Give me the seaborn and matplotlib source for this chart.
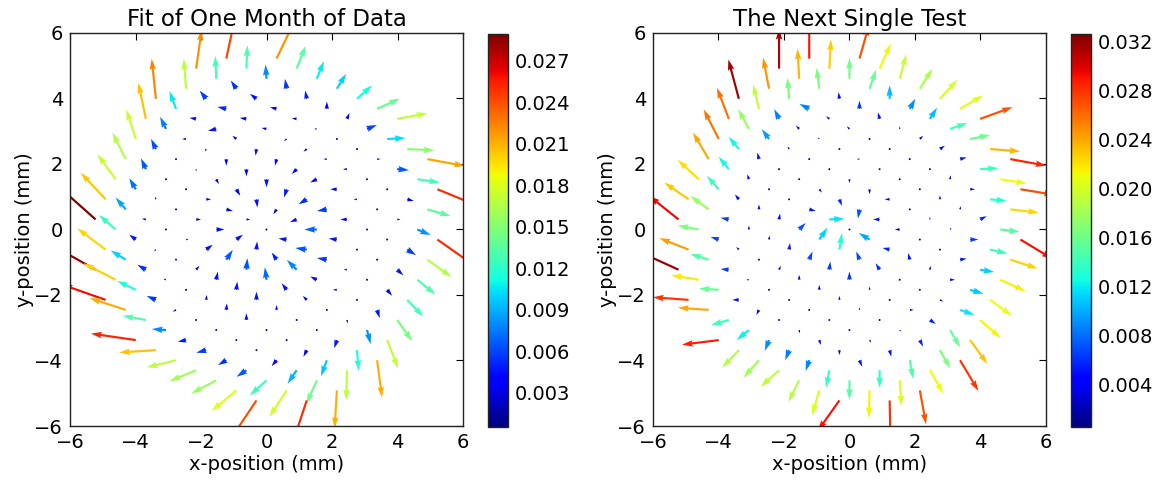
"""Two quiver panels of a focal-plane distortion field, drawn on a rotated square lattice."""

import matplotlib

matplotlib.use("Agg")
import matplotlib.pyplot as plt
import numpy as np
import seaborn as sns

# lattice geometry (mm): point = i * STEP_A + j * STEP_B
STEP_A = (0.307, 0.614)
STEP_B = (0.614, -0.307)

# first j index of every lattice row i (rows run from j_first to -j_first)
J_FIRST = {7: -3, 6: -5, 5: -6, 4: -6, 3: -7, 2: -7, 1: -7, 0: -7,
           -1: -7, -2: -7, -3: -7, -4: -6, -5: -6, -6: -5, -7: -3}

# ---- panel 1: fit of one month of data (arrow components as drawn, mm)
DX1 = {
    7: [0.52, 0.27, 0.22, 0.28, 0.46, 0.69, 0.92],
    6: [0.28, 0.03, -0.03, -0.05, -0.05, 0.00, 0.08, 0.30, 0.56, 0.83, 1.15],
    5: [0.17, -0.03, -0.17, -0.20, -0.20, -0.15, -0.08, 0.02, 0.03, 0.10, 0.36, 0.69, 1.27],
    4: [-0.07, -0.20, -0.27, -0.20, -0.15, -0.08, -0.10, -0.10, -0.12, -0.03, 0.03, 0.20, 0.71],
    3: [-0.13, -0.20, -0.20, -0.25, -0.12, -0.03, -0.05, -0.15, -0.20, -0.20, -0.10, 0.02, 0.10, 0.41, 1.12],
    2: [-0.23, -0.18, -0.12, -0.04, 0.00, 0.00, 0.00, -0.08, -0.25, -0.30, -0.20, -0.03, 0.03, 0.27, 0.74],
    1: [-0.29, -0.15, -0.03, 0.00, 0.08, 0.12, 0.03, -0.10, -0.20, -0.38, -0.25, -0.05, 0.02, 0.19, 0.56],
    0: [-0.41, -0.15, -0.03, 0.04, 0.15, 0.20, 0.12, 0.00, -0.25, -0.35, -0.30, -0.10, 0.02, 0.15, 0.49],
    -1: [-0.56, -0.20, -0.03, -0.03, 0.15, 0.25, 0.20, 0.02, -0.15, -0.30, -0.20, -0.12, 0.02, 0.08, 0.46],
    -2: [-0.76, -0.31, -0.12, -0.02, 0.08, 0.20, 0.20, 0.03, -0.05, -0.15, -0.12, 0.02, 0.03, 0.11, 0.34],
    -3: [-1.18, -0.51, -0.20, -0.06, 0.02, 0.10, 0.05, 0.03, 0.00, 0.00, 0.02, 0.02, -0.08, 0.05, 0.15],
    -4: [-0.87, -0.46, -0.26, -0.08, 0.00, 0.02, 0.02, 0.00, 0.00, 0.02, -0.10, -0.18, -0.02],
    -5: [-1.35, -0.98, -0.57, -0.28, -0.10, -0.05, -0.03, -0.03, -0.03, -0.15, -0.28, -0.31, -0.07],
    -6: [-1.34, -1.10, -0.71, -0.43, -0.25, -0.30, -0.25, -0.30, -0.51, -0.53, -0.43],
    -7: [-1.37, -1.12, -0.90, -0.81, -0.76, -0.76, -0.73],
}
DY1 = {
    7: [1.08, 0.69, 0.54, 0.46, 0.41, 0.31, 0.17],
    6: [1.30, 0.71, 0.43, 0.30, 0.25, 0.22, 0.18, 0.12, 0.03, -0.04, -0.21],
    5: [1.19, 0.69, 0.25, 0.15, 0.05, 0.02, 0.00, 0.02, 0.02, 0.00, -0.03, -0.10, -0.52],
    4: [0.92, 0.25, 0.06, 0.03, 0.03, -0.06, -0.08, 0.00, 0.00, 0.00, 0.00, -0.05, -0.20],
    3: [1.22, 0.54, 0.03, -0.06, 0.10, -0.20, -0.20, -0.15, -0.10, 0.00, 0.00, 0.00, 0.00, -0.17, -0.79],
    2: [1.10, 0.37, 0.00, -0.08, -0.20, -0.22, -0.25, -0.25, -0.15, -0.05, 0.00, 0.00, 0.00, -0.17, -0.53],
    1: [0.90, 0.31, 0.00, -0.07, -0.15, -0.20, -0.25, -0.15, -0.08, 0.00, 0.03, 0.00, 0.00, -0.17, -0.45],
    0: [0.81, 0.33, 0.03, -0.03, 0.00, -0.05, 0.00, 0.00, 0.03, 0.05, 0.05, 0.00, 0.00, -0.18, -0.51],
    -1: [0.76, 0.34, 0.08, 0.03, 0.00, 0.00, 0.15, 0.25, 0.22, 0.30, 0.10, 0.00, -0.02, -0.25, -0.65],
    -2: [0.81, 0.36, 0.02, 0.00, 0.00, 0.15, 0.30, 0.35, 0.38, 0.20, 0.12, 0.00, -0.10, -0.43, -0.87],
    -3: [1.05, 0.44, 0.15, -0.05, 0.02, 0.12, 0.25, 0.25, 0.25, 0.15, 0.02, -0.02, -0.25, -0.63, -1.14],
    -4: [0.65, 0.28, 0.15, 0.03, -0.05, 0.15, 0.20, 0.20, 0.05, -0.02, -0.20, -0.49, -0.92],
    -5: [0.76, 0.50, 0.27, 0.12, -0.05, 0.00, 0.03, -0.03, -0.05, -0.18, -0.41, -0.71, -1.15],
    -6: [0.47, 0.36, 0.13, 0.03, -0.05, -0.08, -0.15, -0.20, -0.46, -0.81, -1.30],
    -7: [0.20, -0.07, -0.22, -0.33, -0.40, -0.63, -1.09],
}

# ---- panel 2: the next single test (arrow components as drawn, mm)
DX2 = {
    7: [0.29, 0.34, 0.20, 0.38, 0.53, 0.70, 0.99],
    6: [0.00, 0.05, 0.00, 0.20, 0.00, 0.17, 0.22, 0.53, 0.61, 0.92, 1.10],
    5: [0.00, -0.05, -0.08, -0.03, 0.00, -0.05, 0.00, 0.10, 0.15, 0.20, 0.56, 0.81, 1.05],
    4: [-0.18, -0.05, -0.30, -0.10, -0.08, 0.02, 0.02, 0.02, 0.03, 0.02, 0.15, 0.51, 0.87],
    3: [-0.32, -0.18, -0.15, -0.10, -0.05, 0.02, -0.08, 0.00, -0.03, 0.02, 0.00, 0.02, 0.20, 0.59, 0.98],
    2: [-0.36, -0.33, -0.22, -0.05, 0.00, 0.02, 0.00, 0.00, -0.15, 0.02, 0.00, 0.05, 0.25, 0.53, 0.84],
    1: [-0.46, -0.31, -0.05, 0.02, 0.02, 0.08, 0.08, -0.05, -0.20, -0.15, 0.02, 0.03, 0.20, 0.43, 0.77],
    0: [-0.48, -0.31, -0.05, 0.02, 0.05, 0.20, 0.46, 0.00, -0.33, -0.22, -0.05, 0.02, 0.15, 0.41, 0.66],
    -1: [-0.64, -0.36, -0.12, 0.00, 0.03, 0.20, 0.25, 0.08, -0.10, -0.12, 0.00, 0.02, 0.10, 0.44, 0.63],
    -2: [-0.74, -0.56, -0.25, 0.00, 0.02, 0.03, 0.10, 0.03, 0.00, 0.00, 0.02, 0.12, 0.18, 0.31, 0.53],
    -3: [-0.90, -0.64, -0.25, -0.08, 0.02, 0.05, 0.00, 0.00, 0.00, 0.00, 0.03, 0.05, 0.10, 0.32, 0.56],
    -4: [-0.89, -0.56, -0.25, -0.08, -0.03, 0.02, 0.03, 0.03, 0.03, 0.05, 0.05, 0.10, 0.41],
    -5: [-1.14, -0.84, -0.61, -0.20, -0.08, 0.02, 0.02, 0.05, 0.00, 0.08, 0.00, 0.05, 0.19],
    -6: [-1.09, -0.94, -0.54, -0.37, -0.13, -0.12, -0.11, -0.10, 0.00, -0.02, 0.02],
    -7: [-1.12, -0.51, -0.47, -0.56, -0.33, -0.22, -0.66],
}
DY2 = {
    7: [1.02, 0.76, 0.74, 0.61, 0.58, 0.41, 0.36],
    6: [1.14, 0.89, 0.63, 0.58, 0.41, 0.31, 0.34, 0.18, 0.12, -0.07, -0.20],
    5: [1.22, 0.92, 0.64, 0.20, 0.25, 0.20, 0.08, 0.10, 0.10, 0.05, 0.03, -0.13, -0.17],
    4: [0.95, 0.64, 0.15, 0.08, 0.08, 0.02, 0.00, 0.02, 0.03, 0.12, 0.00, -0.05, -0.10],
    3: [1.20, 0.74, 0.30, 0.10, 0.05, 0.02, 0.00, -0.03, 0.00, 0.00, 0.12, 0.10, 0.10, -0.07, -0.59],
    2: [0.95, 0.61, 0.30, 0.08, 0.00, -0.02, -0.12, -0.15, 0.00, 0.00, 0.08, 0.05, 0.00, -0.12, -0.27],
    1: [0.90, 0.37, 0.20, 0.02, 0.00, -0.10, -0.20, -0.28, 0.00, 0.00, 0.02, 0.02, 0.03, -0.07, -0.35],
    0: [0.81, 0.38, 0.15, 0.00, 0.00, -0.05, 0.02, 0.00, 0.20, 0.05, 0.20, 0.12, 0.00, -0.12, -0.48],
    -1: [0.59, 0.41, 0.15, 0.15, 0.18, 0.20, 0.36, 0.51, 0.25, 0.20, 0.05, 0.00, -0.05, -0.15, -0.55],
    -2: [0.51, 0.41, 0.05, 0.12, 0.12, 0.20, 0.25, 0.25, 0.25, 0.10, 0.00, 0.00, -0.12, -0.53, -0.73],
    -3: [0.72, 0.12, 0.08, 0.08, 0.02, 0.12, 0.15, 0.15, 0.12, 0.08, -0.03, -0.05, -0.20, -0.56, -0.94],
    -4: [0.35, 0.17, 0.02, 0.00, 0.03, 0.02, 0.00, -0.03, -0.05, -0.08, -0.20, -0.57, -0.71],
    -5: [0.52, 0.14, 0.04, 0.00, -0.15, -0.02, -0.10, -0.15, -0.15, -0.20, -0.54, -0.79, -1.04],
    -6: [0.08, 0.07, -0.15, -0.30, -0.33, -0.31, -0.33, -0.53, -0.59, -0.84, -1.10],
    -7: [-0.14, -0.53, -0.53, -0.50, -0.66, -0.76, -0.93],
}

# colour value per mm of drawn arrow, and colour limits
VALUE_PER_MM = [0.0183, 0.0255]
CLIMS = [(0.00055, 0.0289), (0.00053, 0.0326)]
CBAR_TICKS = [np.arange(0.003, 0.0271, 0.003), np.arange(0.004, 0.0321, 0.004)]
TITLES = ["Fit of One Month of Data", "The Next Single Test"]


def lattice_field(dx_rows, dy_rows):
    xs, ys, us, vs = [], [], [], []
    for i, j0 in J_FIRST.items():
        assert len(dx_rows[i]) == len(dy_rows[i]) == 1 - 2 * j0
        for k, (u, v) in enumerate(zip(dx_rows[i], dy_rows[i])):
            j = j0 + k
            xs.append(i * STEP_A[0] + j * STEP_B[0])
            ys.append(i * STEP_A[1] + j * STEP_B[1])
            us.append(u)
            vs.append(v)
    return np.array(xs), np.array(ys), np.array(us), np.array(vs)


sns.set_style("white")
plt.rcParams.update({
    "font.family": ["DejaVu Sans"],
    "text.color": "black",
    "axes.labelcolor": "black",
    "axes.edgecolor": "#222222",
    "axes.linewidth": 1.0,
    "xtick.direction": "in",
    "ytick.direction": "in",
    "xtick.top": True,
    "ytick.right": True,
    "xtick.major.size": 5,
    "ytick.major.size": 5,
    "xtick.color": "black",
    "ytick.color": "black",
})

fig = plt.figure(figsize=(11.61, 4.8), dpi=100)
axes_rects = [(0.0603, 0.1125, 0.3385, 0.8188), (0.5624, 0.1125, 0.3385, 0.8188)]
cbar_rects = [(0.4205, 0.1110, 0.0167, 0.8175), (0.9225, 0.1110, 0.0172, 0.8175)]
fields = [(DX1, DY1), (DX2, DY2)]

for p in range(2):
    ax = fig.add_axes(axes_rects[p])
    x, y, u, v = lattice_field(*fields[p])
    c = np.hypot(u, v) * VALUE_PER_MM[p]
    q = ax.quiver(x, y, u, v, c, cmap="jet", angles="xy", scale_units="xy",
                  scale=1, pivot="tail", clim=CLIMS[p], width=0.0055)
    ax.set_xlim(-6, 6)
    ax.set_ylim(-6, 6)
    ax.set_xticks(range(-6, 7, 2))
    ax.set_yticks(range(-6, 7, 2))
    ax.tick_params(labelsize=14, pad=5)
    ax.set_title(TITLES[p], fontsize=16.5, pad=5, color="black")
    ax.set_xlabel("x-position (mm)", fontsize=14, labelpad=2)
    ax.set_ylabel("y-position (mm)", fontsize=14, labelpad=0)

    cax = fig.add_axes(cbar_rects[p])
    cb = fig.colorbar(q, cax=cax, ticks=CBAR_TICKS[p], format="%.3f")
    cb.ax.tick_params(labelsize=14, direction="in", length=5, pad=5)
    cb.outline.set_edgecolor("#222222")

fig.savefig("out.png", dpi=100)
plt.close(fig)
